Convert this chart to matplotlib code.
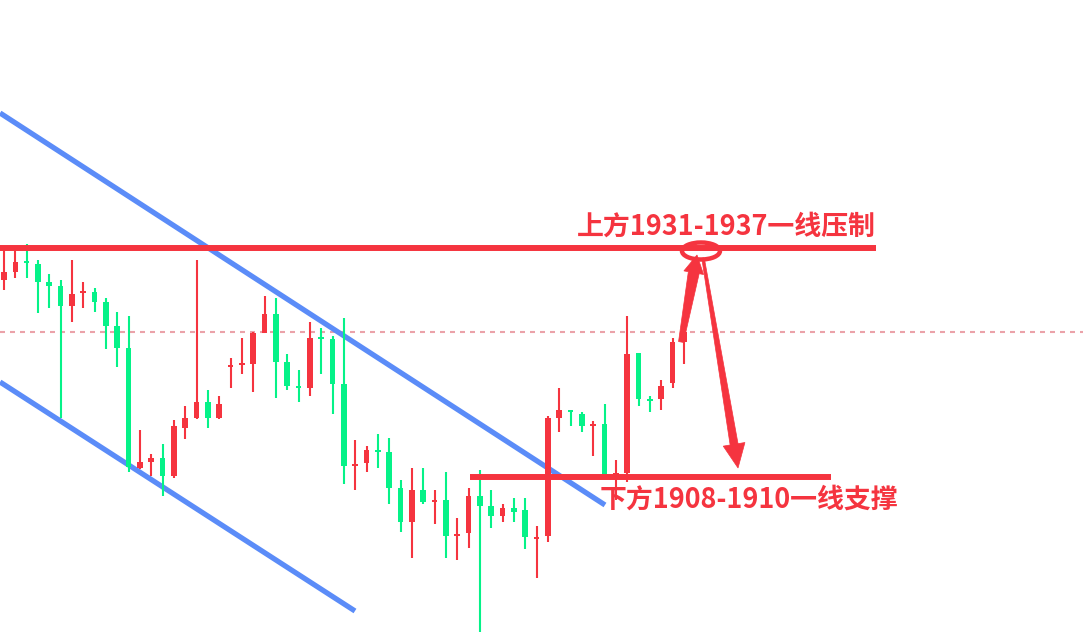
import numpy as np
import matplotlib
matplotlib.use("Agg")
import matplotlib.pyplot as plt
from matplotlib.patches import Ellipse, Polygon
from matplotlib.transforms import IdentityTransform

plt.rcParams['font.family'] = ['Noto Sans CJK SC', 'DejaVu Sans']

# ---- candle data (price units) ----
opens = [1930.8, 1931.6, 1932.6, 1932.4, 1930.6, 1930.2, 1928.2, 1929.5, 1929.6, 1928.6,
         1926.2, 1924.0, 1912.0, 1912.6, 1913.0, 1911.2, 1916.0, 1917.0, 1918.6, 1917.0,
         1922.1, 1922.3, 1922.4, 1925.5, 1927.4, 1922.6, 1920.2, 1920.0, 1925.0, 1924.9,
         1920.4, 1912.2, 1912.5, 1913.8, 1913.6, 1910.0, 1906.6, 1909.8, 1908.6, 1908.8,
         1905.2, 1905.5, 1909.2, 1908.2, 1907.2, 1908.0, 1907.8, 1904.9, 1905.2, 1917.0,
         1917.8, 1917.4, 1916.2, 1916.4, 1911.3, 1911.5, 1923.5, 1918.9, 1918.9, 1920.5,
         1924.6]
closes = [1931.6, 1932.6, 1932.5, 1930.6, 1930.2, 1928.2, 1929.4, 1929.6, 1928.6, 1926.2,
          1924.0, 1912.1, 1912.6, 1913.0, 1911.2, 1916.2, 1917.0, 1918.6, 1917.0, 1918.4,
          1922.2, 1922.4, 1925.5, 1927.4, 1922.6, 1920.2, 1920.0, 1925.0, 1924.9, 1920.4,
          1912.2, 1912.4, 1913.8, 1913.6, 1910.0, 1906.6, 1909.8, 1908.6, 1908.8, 1905.2,
          1905.4, 1909.2, 1908.2, 1907.2, 1908.0, 1907.6, 1905.1, 1905.0, 1917.0, 1917.8,
          1917.6, 1916.2, 1916.4, 1911.1, 1911.5, 1923.4, 1918.9, 1918.7, 1920.2, 1924.6,
          1925.6]
highs = [1933.8, 1934.0, 1934.4, 1932.8, 1931.4, 1930.8, 1932.8, 1930.6, 1930.0, 1929.0,
         1927.6, 1927.2, 1915.8, 1913.4, 1914.4, 1916.8, 1918.2, 1932.8, 1919.8, 1919.2,
         1923.0, 1925.0, 1925.6, 1929.2, 1929.0, 1923.4, 1921.8, 1926.6, 1926.0, 1925.2,
         1927.0, 1914.8, 1914.2, 1915.4, 1915.0, 1910.8, 1912.0, 1912.0, 1909.8, 1911.6,
         1907.0, 1910.0, 1911.8, 1909.8, 1908.4, 1909.0, 1909.0, 1906.2, 1917.2, 1920.0,
         1917.8, 1917.6, 1916.7, 1918.4, 1912.8, 1927.2, 1923.5, 1919.2, 1920.8, 1925.0,
         1925.6]
lows = [1929.8, 1931.0, 1931.0, 1927.5, 1928.0, 1917.0, 1926.6, 1928.0, 1927.6, 1923.9,
        1922.1, 1911.6, 1911.9, 1911.2, 1909.2, 1911.0, 1914.9, 1916.9, 1916.0, 1916.9,
        1920.0, 1921.4, 1919.6, 1925.5, 1919.0, 1919.8, 1918.6, 1919.2, 1921.4, 1917.4,
        1910.4, 1909.8, 1911.6, 1912.0, 1908.4, 1905.6, 1903.0, 1908.4, 1906.4, 1903.0,
        1902.8, 1904.0, 1895.6, 1906.0, 1906.6, 1906.6, 1903.9, 1901.0, 1904.6, 1915.6,
        1916.2, 1915.6, 1913.2, 1911.1, 1908.8, 1910.6, 1918.2, 1917.6, 1917.8, 1920.0,
        1922.4]

# ---- annotation levels ----
resistance_level = 1934.0
support_level = 1911.1
last_price = 1925.6
upper_channel = [(-0.35, 1947.5), (53.03, 1908.3)]
lower_channel = [(-0.35, 1920.6), (30.97, 1897.7)]
resistance_span = (-0.35, 76.94)
support_span = (41.12, 72.97)
label_top = "上方1931-1937一线压制"
label_bottom = "下方1908-1910一线支撑"

RED = '#F5343F'
GREEN = '#05F288'
BLUE = '#5B8CF8'
DASH = '#EBA2A9'

fig = plt.figure(figsize=(10.83, 6.33), dpi=100)
ax = fig.add_axes([0, 0, 1, 1])
ax.axis('off')
ax.set_xlim(-0.353, 95.21)
ax.set_ylim(1895.5, 1958.8)

# dashed last price line
ax.axhline(last_price, color=DASH, lw=1.5, ls=(0, (2.4, 2.4)), zorder=1)

# channel lines
for seg in (upper_channel, lower_channel):
    ax.plot([seg[0][0], seg[1][0]], [seg[0][1], seg[1][1]], color=BLUE, lw=3.8,
            solid_capstyle='butt', zorder=2)

# candles
idx = np.arange(len(opens))
o = np.array(opens); c = np.array(closes); h = np.array(highs); l = np.array(lows)
up = c >= o
cols = np.where(up, RED, GREEN)
ax.vlines(idx, l, h, colors=cols, lw=1.5, zorder=3)
body_low = np.minimum(o, c)
body_h = np.maximum(np.abs(c - o), 0.2)
ax.bar(idx, body_h, bottom=body_low, width=0.5, color=cols, zorder=3, linewidth=0)

# horizontal levels
ax.plot(resistance_span, [resistance_level] * 2, color=RED, lw=4.3, solid_capstyle='butt', zorder=4)
ax.plot(support_span, [support_level] * 2, color=RED, lw=4.3, solid_capstyle='butt', zorder=4)

# ellipse
ax.add_patch(Ellipse((61.5, 1933.7), width=3.35, height=1.7, fill=False,
                     edgecolor=RED, lw=3.2, zorder=5))


def tapered_arrow(tail, tip, w0, w1, hw, hl):
    t = ax.transData.transform(tail)
    p = ax.transData.transform(tip)
    d = p - t
    L = np.hypot(*d)
    u = d / L
    n = np.array([-u[1], u[0]])
    neck = p - u * hl
    pts = [t + n * w0 / 2, neck + n * w1 / 2, neck + n * hw / 2, p,
           neck - n * hw / 2, neck - n * w1 / 2, t - n * w0 / 2]
    ax.add_patch(Polygon(pts, closed=True, facecolor=RED, edgecolor=RED, lw=0.5,
                         transform=IdentityTransform(), zorder=6))


tapered_arrow((59.74, 1924.6), (61.15, 1933.3), 5, 11, 20, 18)
tapered_arrow((61.68, 1933.0), (64.77, 1912.0), 2.5, 8, 22, 24)

ax.text(50.56, 1936.1, label_top, color=RED, fontsize=19.4, fontweight='bold',
        ha='left', va='center', zorder=7)
ax.text(52.59, 1908.8, label_bottom, color=RED, fontsize=19.4, fontweight='bold',
        ha='left', va='center', zorder=7)

fig.savefig('out.png', dpi=100)
